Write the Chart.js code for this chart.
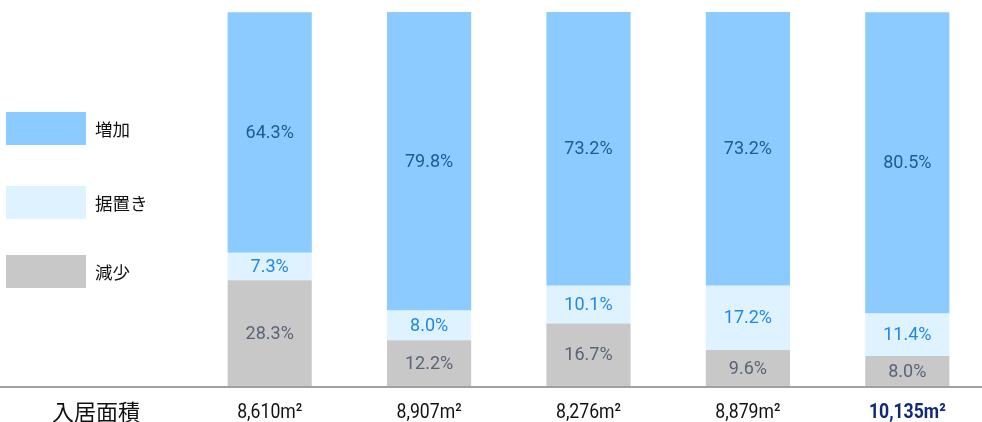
<!DOCTYPE html>
<html lang="ja">
<head>
<meta charset="utf-8">
<script src="https://cdn.jsdelivr.net/npm/chart.js@4/dist/chart.umd.min.js"></script>
<style>
  html, body { margin: 0; padding: 0; background: #fff; overflow: hidden; }
  #wrap { position: relative; width: 987px; height: 422px; }
  #chart { position: absolute; left: 0; top: 0; }
  .leg { position: absolute; left: 6px; font-family: "Noto Sans CJK JP", sans-serif; font-size: 17.5px; color: #111; }
  .leg span.box { position: absolute; left: 0; top: 0; width: 80px; height: 33px; }
  .leg span.txt { position: absolute; left: 89px; top: 4px; white-space: nowrap; }
  #area { position: absolute; left: 52px; top: 394px; font-family: "Noto Sans CJK JP", sans-serif; font-size: 22px; color: #111; }
</style>
</head>
<body>
<div id="wrap">
  <canvas id="chart" width="987" height="422"></canvas>
  <div id="legend"></div>
  <div id="area">入居面積</div>
</div>
<script>
window.addEventListener('DOMContentLoaded', function () {

    // データ
    const categories = ['8,610m²', '8,907m²', '8,276m²', '8,879m²', '10,135m²'];
    const seriesNames = ['増加', '据置き', '減少'];
    const increase = [64.3, 79.8, 73.2, 73.2, 80.5];
    const hold = [7.3, 8.0, 10.1, 17.2, 11.4];
    const decrease = [28.3, 12.2, 16.7, 9.6, 8.0];

    // 色
    const fillColors = ['#8ccbff', '#def2ff', '#c8c8c8'];
    const labelColors = ['#1d5a98', '#1f88e6', '#5a6475'];

    // 凡例 (HTML)
    const legendTops = [112, 186, 255];
    const legendEl = document.getElementById('legend');
    seriesNames.forEach(function (name, i) {
        const d = document.createElement('div');
        d.className = 'leg';
        d.style.top = legendTops[i] + 'px';
        d.innerHTML = '<span class="box" style="background:' + fillColors[i] + '"></span><span class="txt">' + name + '</span>';
        legendEl.appendChild(d);
    });

    // 値ラベル
    const valueLabels = {
        id: 'valueLabels',
        afterDatasetsDraw(chart) {
            const ctx = chart.ctx;
            ctx.save();
            ctx.font = '18px Roboto, sans-serif';
            ctx.textAlign = 'center';
            ctx.textBaseline = 'middle';
            chart.data.datasets.forEach(function (ds, di) {
                const meta = chart.getDatasetMeta(di);
                ctx.fillStyle = ds.labelColor;
                meta.data.forEach(function (bar, i) {
                    const mid = (bar.y + bar.base) / 2;
                    ctx.fillText(ds.data[i].toFixed(1) + '%', bar.x, mid + 1);
                });
            });
            ctx.restore();
        }
    };

    // 横線 (全幅) と 面積ラベル (縦長フォント)
    const bottomAxis = {
        id: 'bottomAxis',
        afterDatasetsDraw(chart) {
            const ctx = chart.ctx;
            const y = chart.chartArea.bottom + 1;
            ctx.save();
            ctx.strokeStyle = '#808080';
            ctx.lineWidth = 1.5;
            ctx.beginPath();
            ctx.moveTo(0, y);
            ctx.lineTo(chart.width, y);
            ctx.stroke();

            const xs = chart.scales.x;
            ctx.textAlign = 'center';
            ctx.textBaseline = 'alphabetic';
            chart.data.labels.forEach(function (lab, i) {
                const last = i === chart.data.labels.length - 1;
                ctx.save();
                ctx.translate(xs.getPixelForValue(i), 418);
                ctx.scale(0.84, 1);
                ctx.font = (last ? 'bold ' : '') + '21px Roboto, sans-serif';
                ctx.fillStyle = last ? '#102a78' : '#111';
                ctx.fillText(lab, 0, 0);
                ctx.restore();
            });
            ctx.restore();
        }
    };

    const seriesData = [increase, hold, decrease];
    // 下から 減少 → 据置き → 増加 の順に積む
    const datasets = seriesNames.map(function (name, i) {
        return {
            label: name,
            data: seriesData[i],
            backgroundColor: fillColors[i],
            labelColor: labelColors[i],
            borderWidth: 0,
            stack: 's'
        };
    }).reverse();

    new Chart(document.getElementById('chart').getContext('2d'), {
        type: 'bar',
        data: { labels: categories, datasets: datasets },
        options: {
            responsive: false,
            animation: false,
            layout: { padding: { left: 190, top: 12, right: 0, bottom: 0 } },
            plugins: { legend: { display: false }, tooltip: { enabled: false } },
            datasets: { bar: { categoryPercentage: 1, barPercentage: 0.528 } },
            scales: {
                x: {
                    stacked: true,
                    grid: { display: false, drawTicks: false },
                    border: { display: false },
                    afterFit: function (s) { s.height = 36; },
                    ticks: { display: false }
                },
                y: {
                    stacked: true,
                    display: false,
                    min: 0,
                    max: 100
                }
            }
        },
        plugins: [valueLabels, bottomAxis]
    });
});
</script>
</body>
</html>
